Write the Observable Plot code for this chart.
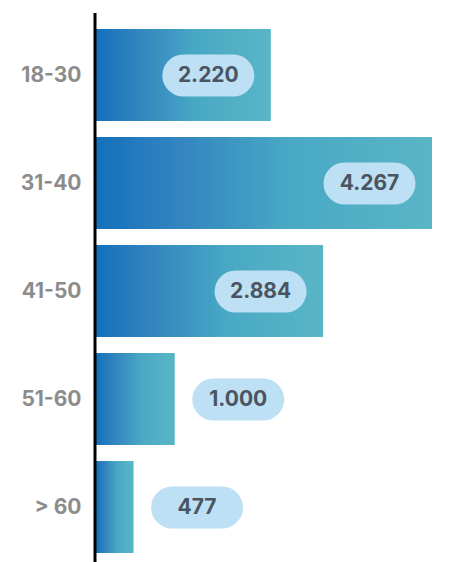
<!DOCTYPE html>
<html><head><meta charset="utf-8">
<script src="https://cdn.jsdelivr.net/npm/d3@7"></script>
<script src="https://cdn.jsdelivr.net/npm/@observablehq/plot@0.6"></script>
<style>body{margin:0;background:#fff}</style></head>
<body><div id="chart"></div>
<script>
const groups = ["18-30", "31-40", "41-50", "51-60", "> 60"];
const counts = [2220, 4267, 2884, 1000, 477];
const labels = ["2.220", "4.267", "2.884", "1.000", "477"];

const data = groups.map((g, i) => ({group: g, count: counts[i], label: labels[i]}));
const inside = data.filter(d => d.count >= 2000);
const outside = data.filter(d => d.count < 2000);

const pill = {
  draw(ctx) {
    const w = 46, h = 21;
    ctx.moveTo(-w + h, -h);
    ctx.lineTo(w - h, -h);
    ctx.arc(w - h, 0, h, -Math.PI / 2, Math.PI / 2);
    ctx.lineTo(-w + h, h);
    ctx.arc(-w + h, 0, h, Math.PI / 2, 3 * Math.PI / 2);
    ctx.closePath();
  }
};

const defs = () => {
  const d = d3.create("svg:defs");
  const g = d.append("linearGradient").attr("id", "barGrad").attr("x1", 0).attr("x2", 1).attr("y1", 0).attr("y2", 0);
  g.append("stop").attr("offset", "0%").attr("stop-color", "#1470bb");
  g.append("stop").attr("offset", "25%").attr("stop-color", "#3485bf");
  g.append("stop").attr("offset", "50%").attr("stop-color", "#43a0c3");
  g.append("stop").attr("offset", "56%").attr("stop-color", "#48a8c4");
  g.append("stop").attr("offset", "100%").attr("stop-color", "#5ab5c6");
  return d.node();
};

const pillFill = "#bde0f4";
const pillText = "#4a5561";

const chart = Plot.plot({
  width: 455,
  height: 562,
  marginLeft: 96,
  marginRight: 23,
  marginTop: 13,
  marginBottom: 0,
  style: {fontFamily: "Inter, sans-serif", background: "#fff"},
  x: {axis: null, domain: [0, d3.max(counts)]},
  y: {domain: groups, paddingInner: 0.15, paddingOuter: 0.1, align: 0.62, label: null},
  marks: [
    defs,
    Plot.barX(data, {x: "count", y: "group", fill: "url(#barGrad)"}),
    Plot.ruleX([0], {stroke: "#000", strokeWidth: 3, dx: -1.5}),
    Plot.axisY({tickSize: 0, tickPadding: 15, fontSize: 21, fontWeight: 700, fill: "#8c8c8c", label: null}),
    Plot.dot(inside, {x: "count", y: "group", symbol: pill, fill: pillFill, stroke: null, dx: -63}),
    Plot.text(inside, {x: "count", y: "group", text: "label", dx: -63, fill: pillText, fontSize: 21, fontWeight: 700}),
    Plot.dot(outside, {x: "count", y: "group", symbol: pill, fill: pillFill, stroke: null, dx: 63}),
    Plot.text(outside, {x: "count", y: "group", text: "label", dx: 63, fill: pillText, fontSize: 21, fontWeight: 700})
  ]
});
document.getElementById("chart").appendChild(chart);
</script>
</body></html>
